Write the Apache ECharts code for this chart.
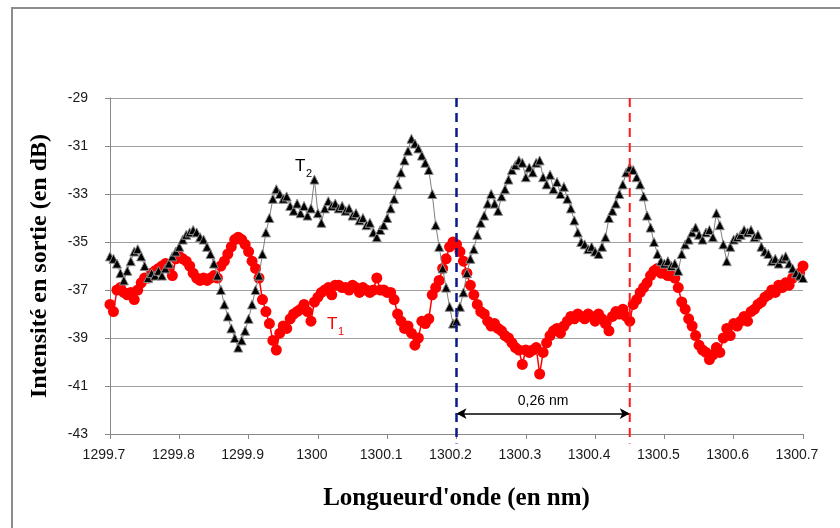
<!DOCTYPE html>
<html><head><meta charset="utf-8">
<script src="https://cdn.jsdelivr.net/npm/echarts@6/dist/echarts.min.js"></script>
<style>html,body{margin:0;padding:0;background:#fff}#c{width:840px;height:528px}</style>
</head><body><div id="c"></div>
<script>
const wavelengths = [
1299.700,1299.705,1299.710,1299.715,1299.720,1299.725,1299.730,1299.735,1299.740,1299.745,1299.750,1299.755,1299.760,1299.765,1299.770,1299.775,1299.780,1299.785,1299.790,1299.795,
1299.800,1299.805,1299.810,1299.815,1299.820,1299.825,1299.830,1299.835,1299.840,1299.845,1299.850,1299.855,1299.860,1299.865,1299.870,1299.875,1299.880,1299.885,1299.890,1299.895,
1299.900,1299.905,1299.910,1299.915,1299.920,1299.925,1299.930,1299.935,1299.940,1299.945,1299.950,1299.955,1299.960,1299.965,1299.970,1299.975,1299.980,1299.985,1299.990,1299.995,
1300.000,1300.005,1300.010,1300.015,1300.020,1300.025,1300.030,1300.035,1300.040,1300.045,1300.050,1300.055,1300.060,1300.065,1300.070,1300.075,1300.080,1300.085,1300.090,1300.095,
1300.100,1300.105,1300.110,1300.115,1300.120,1300.125,1300.130,1300.135,1300.140,1300.145,1300.150,1300.155,1300.160,1300.165,1300.170,1300.175,1300.180,1300.185,1300.190,1300.195,
1300.200,1300.205,1300.210,1300.215,1300.220,1300.225,1300.230,1300.235,1300.240,1300.245,1300.250,1300.255,1300.260,1300.265,1300.270,1300.275,1300.280,1300.285,1300.290,1300.295,
1300.300,1300.305,1300.310,1300.315,1300.320,1300.325,1300.330,1300.335,1300.340,1300.345,1300.350,1300.355,1300.360,1300.365,1300.370,1300.375,1300.380,1300.385,1300.390,1300.395,
1300.400,1300.405,1300.410,1300.415,1300.420,1300.425,1300.430,1300.435,1300.440,1300.445,1300.450,1300.455,1300.460,1300.465,1300.470,1300.475,1300.480,1300.485,1300.490,1300.495,
1300.500,1300.505,1300.510,1300.515,1300.520,1300.525,1300.530,1300.535,1300.540,1300.545,1300.550,1300.555,1300.560,1300.565,1300.570,1300.575,1300.580,1300.585,1300.590,1300.595,
1300.600,1300.605,1300.610,1300.615,1300.620,1300.625,1300.630,1300.635,1300.640,1300.645,1300.650,1300.655,1300.660,1300.665,1300.670,1300.675,1300.680,1300.685,1300.690,1300.695,
1300.700];

const t1 = [
-37.6,-37.9,-37.0,-36.9,-37.1,-37.2,-37.1,-37.4,-37.0,-36.7,-36.5,-36.5,-36.3,-36.2,-36.1,-36.0,-35.9,-36.1,-36.4,-35.7,
-35.6,-35.7,-35.8,-36.0,-36.3,-36.5,-36.6,-36.5,-36.6,-36.5,-36.4,-36.5,-36.0,-35.8,-35.5,-35.2,-34.9,-34.8,-34.9,-35.1,
-35.4,-35.8,-36.1,-36.5,-37.4,-37.9,-38.4,-39.1,-39.5,-38.8,-38.5,-38.6,-38.2,-38.0,-37.9,-37.8,-37.6,-37.9,-38.3,-37.5,
-37.3,-37.1,-37.0,-36.9,-37.2,-36.8,-36.8,-36.9,-36.9,-37.0,-36.8,-36.9,-37.1,-36.9,-37.0,-37.1,-37.0,-36.5,-37.0,-37.0,
-37.1,-37.1,-37.4,-38.0,-38.3,-38.6,-38.5,-38.8,-39.3,-39.0,-38.3,-38.4,-38.2,-37.2,-36.9,-36.6,-36.1,-35.7,-35.2,-35.0,
-35.1,-35.4,-35.8,-36.3,-36.8,-37.2,-37.6,-37.9,-38.0,-38.3,-38.5,-38.4,-38.6,-38.7,-38.9,-39.0,-39.2,-39.4,-39.5,-40.1,
-39.5,-39.6,-39.5,-39.4,-40.5,-39.6,-39.2,-38.9,-38.7,-38.6,-38.8,-38.5,-38.3,-38.1,-38.2,-38.0,-38.1,-38.2,-38.0,-38.1,
-38.3,-38.0,-38.2,-38.4,-38.7,-38.1,-37.9,-38.0,-37.8,-38.1,-38.3,-37.6,-37.4,-37.1,-36.9,-36.7,-36.4,-36.2,-36.1,-36.3,
-36.3,-36.4,-36.4,-36.5,-36.9,-37.5,-37.8,-38.2,-38.5,-38.9,-39.3,-39.5,-39.6,-39.9,-39.7,-39.4,-39.6,-39.0,-38.6,-38.9,
-38.4,-38.5,-38.3,-38.1,-38.3,-37.9,-37.8,-37.6,-37.5,-37.3,-37.2,-37.0,-37.1,-36.8,-36.9,-36.7,-36.8,-36.5,-36.4,-36.3,
-36.0];

const t2 = [
-35.6,-35.7,-35.9,-36.3,-36.6,-36.2,-35.8,-35.4,-35.3,-35.6,-36.0,-36.5,-36.3,-36.4,-36.2,-36.4,-36.1,-35.9,-35.6,-35.4,
-35.2,-34.9,-34.7,-34.6,-34.5,-34.6,-34.8,-34.9,-35.2,-35.5,-35.9,-36.4,-37.0,-37.6,-38.1,-38.6,-39.0,-39.4,-39.1,-38.7,
-38.2,-37.6,-37.0,-36.4,-35.5,-34.6,-34.0,-33.2,-32.8,-33.0,-33.2,-33.1,-33.5,-33.7,-33.4,-33.8,-33.5,-33.9,-33.6,-32.4,
-33.8,-34.2,-33.6,-33.3,-33.5,-33.4,-33.6,-33.5,-33.7,-33.6,-33.9,-33.8,-34.1,-34.0,-34.3,-34.2,-34.6,-34.8,-34.5,-34.3,
-34.0,-33.6,-33.2,-32.6,-32.1,-31.6,-31.2,-30.7,-30.9,-31.1,-31.4,-31.7,-32.0,-33.0,-34.3,-35.2,-36.1,-36.9,-37.7,-38.4,
-38.3,-37.7,-37.1,-36.3,-35.7,-35.3,-34.7,-34.2,-33.9,-33.4,-33.0,-33.4,-33.7,-33.1,-32.8,-32.4,-32.0,-31.8,-31.6,-31.7,
-32.3,-31.9,-32.1,-31.7,-31.6,-32.3,-32.6,-32.2,-32.8,-32.5,-33.0,-32.7,-33.2,-33.6,-34.1,-34.6,-35.0,-35.1,-35.3,-35.2,
-35.4,-35.5,-35.2,-34.8,-34.0,-33.7,-33.4,-33.0,-32.6,-32.1,-31.9,-32.0,-32.3,-32.6,-33.1,-33.9,-34.4,-35.0,-35.5,-35.8,
-35.9,-35.8,-36.0,-35.9,-36.2,-35.5,-35.1,-34.9,-34.6,-34.4,-34.7,-34.9,-34.6,-34.5,-34.8,-33.8,-34.3,-35.1,-35.8,-35.2,
-34.9,-34.8,-34.7,-34.5,-34.6,-34.5,-34.8,-34.7,-35.2,-35.4,-35.5,-35.8,-35.7,-35.9,-35.7,-35.6,-35.9,-36.1,-36.3,-36.4,
-36.5];

const markerBlue = 1300.2;
const markerRed = 1300.45;
const arrowLevel = -42.15;
const spacingLabel = '0,26 nm';
const xTitle = "Longueurd'onde (en nm)";
const yTitle = 'Intensité en sortie (en dB)';

const pair = (xs, ys) => xs.map((x, i) => [x, ys[i]]);

const chart = echarts.init(document.getElementById('c'), null, {renderer: 'canvas'});
const option = {
  animation: false,
  backgroundColor: '#fff',
  grid: {left: 110, right: 37, top: 98, bottom: 94},
  xAxis: {
    type: 'value', min: 1299.7, max: 1300.7, interval: 0.1,
    name: xTitle, nameLocation: 'middle', nameGap: 52,
    nameTextStyle: {fontFamily: 'Liberation Serif', fontWeight: 'bold', fontSize: 25, color: '#000'},
    axisLine: {lineStyle: {color: '#888', width: 1}},
    axisTick: {show: true, length: 5, lineStyle: {color: '#888'}},
    axisLabel: {fontFamily: 'Liberation Sans', fontSize: 14, color: '#1a1a1a', margin: 14, padding: [0, 12, 0, 0],
      formatter: v => String(Math.round(v * 10) / 10)},
    splitLine: {show: false}
  },
  yAxis: {
    type: 'value', min: -43, max: -29, interval: 2,
    name: yTitle, nameLocation: 'middle', nameGap: 58, nameRotate: 90,
    nameTextStyle: {fontFamily: 'Liberation Serif', fontWeight: 'bold', fontSize: 24, color: '#000'},
    axisLine: {show: true, lineStyle: {color: '#888', width: 1}},
    axisTick: {show: true, length: 5, lineStyle: {color: '#888'}},
    axisLabel: {fontFamily: 'Liberation Sans', fontSize: 14, color: '#1a1a1a', margin: 22},
    splitLine: {show: true, lineStyle: {color: '#a0a0a0', width: 1}}
  },
  series: [
    {
      name: 'T1', type: 'line', data: pair(wavelengths, t1), z: 3,
      symbol: 'circle', symbolSize: 11, showAllSymbol: true,
      itemStyle: {color: '#ff0000'}, lineStyle: {color: '#ff0000', width: 1.5}
    },
    {
      name: 'T2', type: 'line', data: pair(wavelengths, t2), z: 4,
      symbol: 'triangle', symbolSize: 9, showAllSymbol: true,
      itemStyle: {color: '#000', borderColor: '#8a8a8a', borderWidth: 1},
      lineStyle: {color: '#7f7f7f', width: 1}
    },
    {
      type: 'line', data: [[markerBlue, -29], [markerBlue, -43.4]], clip: false, z: 5,
      symbol: 'none', lineStyle: {color: '#0a1a8c', width: 2.5, type: [9, 6]}
    },
    {
      type: 'line', data: [[markerRed, -29], [markerRed, -43.4]], clip: false, z: 5,
      symbol: 'none', lineStyle: {color: '#ff1a1a', width: 2, type: [9, 6]},
      markLine: {
        silent: true, symbol: ['arrow', 'arrow'], symbolSize: [8, 10],
        lineStyle: {color: '#000', width: 1.5, type: 'solid'},
        label: {show: true, position: 'middle', formatter: spacingLabel, color: '#000',
          fontFamily: 'Liberation Sans', fontSize: 14, distance: 5},
        data: [[{coord: [markerBlue, arrowLevel]}, {coord: [markerRed, arrowLevel]}]]
      }
    }
  ],
  graphic: [
    {type: 'rect', shape: {x: 12, y: 8, width: 860, height: 560}, style: {fill: 'none', stroke: '#8c8c8c', lineWidth: 2}, silent: true},
    {type: 'text', left: 295, top: 158, style: {text: 'T', fontFamily: 'Liberation Sans', fontSize: 17, fill: '#000'}},
    {type: 'text', left: 306, top: 168, style: {text: '2', fontFamily: 'Liberation Sans', fontSize: 11, fill: '#000'}},
    {type: 'text', left: 327, top: 316, style: {text: 'T', fontFamily: 'Liberation Sans', fontSize: 17, fill: '#ff0000'}},
    {type: 'text', left: 338, top: 326, style: {text: '1', fontFamily: 'Liberation Sans', fontSize: 11, fill: '#ff0000'}}
  ]
};
chart.setOption(option);
</script></body></html>
